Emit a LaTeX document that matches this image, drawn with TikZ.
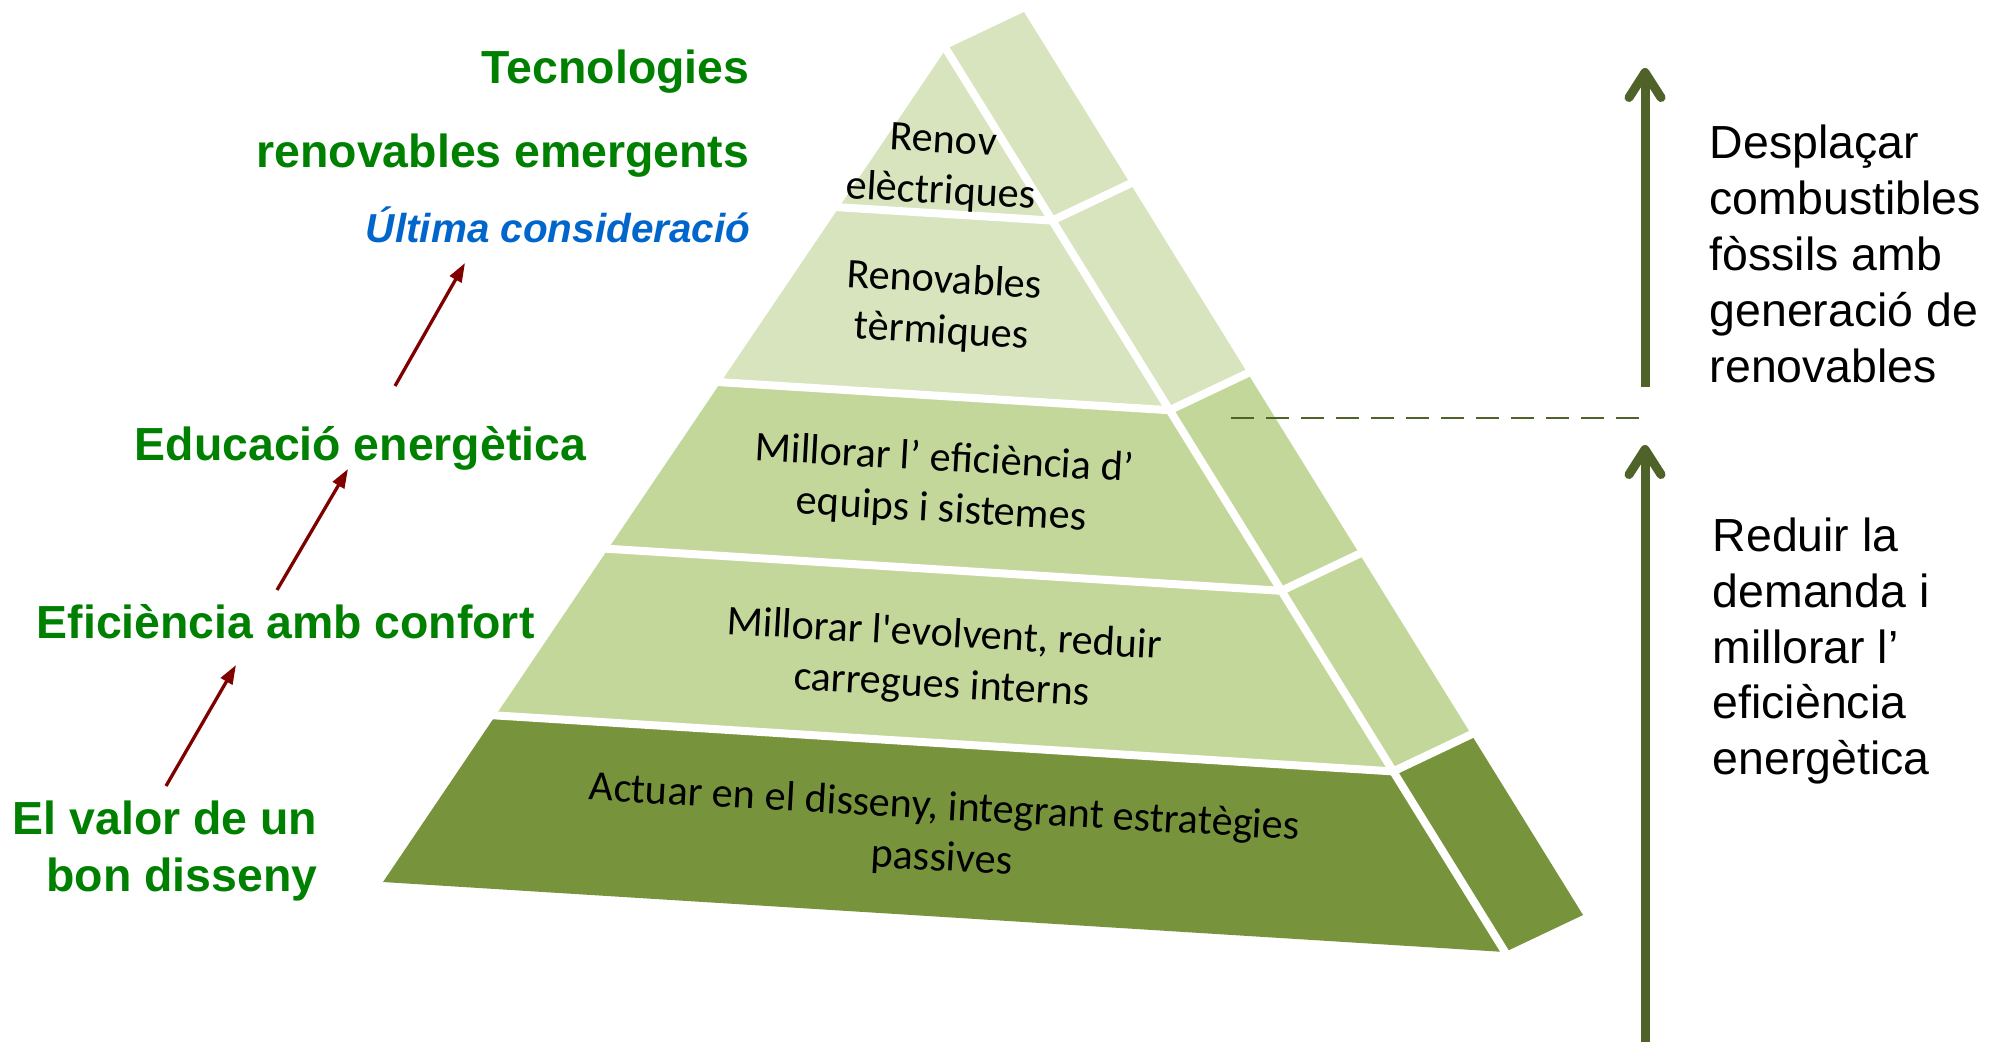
\documentclass[tikz,border=0pt]{standalone}
\usepackage{fontspec}
\setmainfont{Liberation Sans}
\newfontfamily\calib{Carlito}
\usetikzlibrary{calc,arrows.meta}
\definecolor{lite}{HTML}{D7E4BD}
\definecolor{midg}{HTML}{C4D79B}
\definecolor{darkg}{HTML}{77933C}
\definecolor{olive}{HTML}{4F6228}
\definecolor{redarrow}{HTML}{800000}
\definecolor{txtgreen}{HTML}{008000}
\definecolor{txtblue}{HTML}{0066CC}
\begin{document}
\begin{tikzpicture}[x=0.01cm,y=-0.01cm,
  gap/.style={white,line width=0.08cm},
  bandtext/.style={font=\calib\fontsize{12.0}{14.5}\selectfont,align=center,rotate=-3.2,inner sep=0},
  lefttext/.style={font=\bfseries\fontsize{13.2}{16.2}\selectfont,text=txtgreen,inner sep=0},
  righttext/.style={font=\fontsize{13.2}{15.9}\selectfont,align=left,inner sep=0,anchor=west},
  redarr/.style={redarrow,line width=0.033cm,-{Triangle[length=0.19cm,width=0.13cm]}},
  bigarr/.style={olive,line width=0.09cm,-{Straight Barb[length=0.25cm,width=0.32cm,round]}},
]
\useasboundingbox (0,0) rectangle (2004,1042);

% pyramid geometry
\coordinate (A) at (946,49);
\coordinate (BL) at (383,882);
\coordinate (BR) at (1505,952);
\coordinate (Ab) at ($(A)+(78,-37)$);
\coordinate (BRb) at ($(BR)+(78,-37)$);
\foreach \k/\t in {1/0.19,2/0.40,3/0.60,4/0.80}{
  \coordinate (L\k) at ($(A)!\t!(BL)$);
  \coordinate (R\k) at ($(A)!\t!(BR)$);
  \coordinate (B\k) at ($(R\k)+(78,-37)$);
}
% front face
\fill[lite] (A) -- (L2) -- (R2) -- cycle;
\fill[midg] (L2) -- (L4) -- (R4) -- (R2) -- cycle;
\fill[darkg] (L4) -- (BL) -- (BR) -- (R4) -- cycle;
% side face
\fill[lite] (A) -- (Ab) -- (B2) -- (R2) -- cycle;
\fill[midg] (R2) -- (B2) -- (B4) -- (R4) -- cycle;
\fill[darkg] (R4) -- (B4) -- (BRb) -- (BR) -- cycle;
% white gaps
\foreach \k in {1,...,4}{
  \draw[gap] ($(L\k)!-0.03!(R\k)$) -- (R\k) -- ($(R\k)!1.15!(B\k)$);
}
\draw[gap] ($(A)!-0.02!(BR)$) -- ($(A)!1.02!(BR)$);

% band texts
\node[bandtext] (t1) at (942,168) {Renov\\elèctriques};
\node[bandtext] (t2) at (943,307) {Renovables\\tèrmiques};
\node[bandtext] (t3) at (943,485) {Millorar l’ eficiència d’\\equips i sistemes};
\node[bandtext] (t4) at (943,661) {Millorar l'evolvent, reduir\\carregues interns};
\node[bandtext] (t5) at (943,834) {Actuar en el disseny, integrant estratègies\\passives};

% left labels
\node[lefttext,anchor=east] (tec) at (750,72) {Tecnologies};
\node[lefttext,anchor=east] (renem) at (750,156) {renovables emergents};
\node[lefttext,anchor=east,text=txtblue,font=\bfseries\itshape\fontsize{11.5}{14}\selectfont] (ult) at (751,225) {Última consideració};
\node[lefttext,anchor=west] (edu) at (134,448) {Educació energètica};
\node[lefttext,anchor=west] (efi) at (36,622) {Eficiència amb confort};
\node[lefttext,anchor=east,align=right] (valor) at (318,851) {El valor de un\\bon disseny};

\coordinate (r1s) at (166,786); \coordinate (r1e) at (236,665);
\coordinate (r2s) at (277,590); \coordinate (r2e) at (348,469);
\coordinate (r3s) at (395,386); \coordinate (r3e) at (465,263);
\draw[redarr] (r1s) -- (r1e);
\draw[redarr] (r2s) -- (r2e);
\draw[redarr] (r3s) -- (r3e);

% right side
\node[righttext] (desp) at (1709,254) {Desplaçar\\combustibles\\fòssils amb\\generació de\\renovables};
\node[righttext] (redu) at (1712,651) {Reduir la\\demanda i\\millorar l’\\eficiència\\energètica};
\coordinate (u1s) at (1645,387); \coordinate (u1e) at (1645,68);
\coordinate (u2s) at (1645,1042); \coordinate (u2e) at (1645,445);
\draw[bigarr] (u1s) -- (u1e);
\draw[bigarr] (u2s) -- (u2e);
\coordinate (d1) at (1231,418); \coordinate (d2) at (1642,418);
\draw[olive,line width=0.025cm,dash pattern=on 0.23cm off 0.12cm] (d1) -- (d2);
\end{tikzpicture}
\end{document}
